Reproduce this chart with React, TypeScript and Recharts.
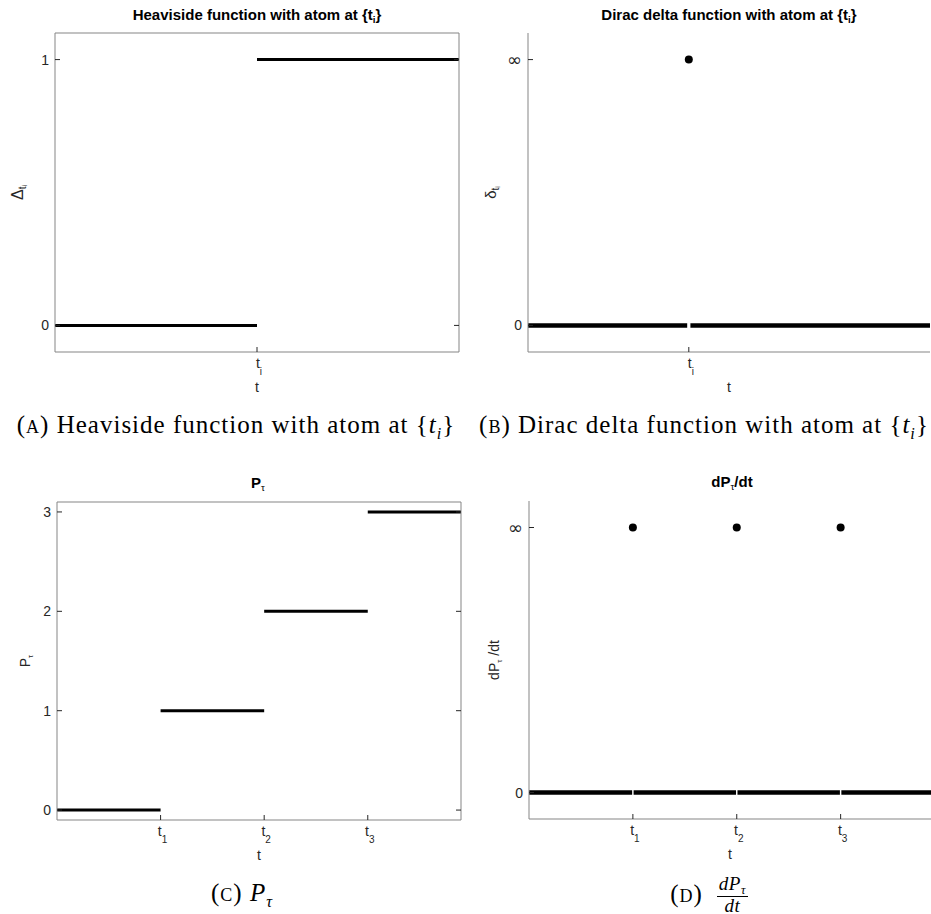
import React from 'react';
import { ComposedChart, Line, Scatter, XAxis, YAxis } from 'recharts';

// (A) Heaviside step with atom at t_i
const heavisideStart = [0, 1];
const heavisideEnd = [1, 2];
const heavisideValue = [0, 1];

// (B) Dirac delta: zero everywhere, "infinite" at the atom
const diracZeroStart = [0, 1.01];
const diracZeroEnd = [0.99, 2.5];
const diracAtomT = [1];
const diracAtomV = [1]; // plotted on the "∞" tick

// (C) counting process P_tau
const countStart = [0, 1, 2, 3];
const countEnd = [1, 2, 3, 3.9];
const countValue = [0, 1, 2, 3];

// (D) dP_tau/dt
const derivZeroStart = [0, 1.007, 2.007, 3.007];
const derivZeroEnd = [0.993, 1.993, 2.993, 3.87];
const derivAtomT = [1, 2, 3];
const derivAtomV = [1, 1, 1];

// tick labels
const singleTick = [1];
const singleTickSub = ['i'];
const tripleTicks = [1, 2, 3];
const tripleTickSub = ['1', '2', '3'];
const unitTicks = [0, 1];
const unitLabels = ['0', '1'];
const deltaLabels = ['0', '\u221e'];
const countTicks = [0, 1, 2, 3];
const countLabels = ['0', '1', '2', '3'];

const AXIS = '#858585';
const INK = '#262626';
const SANS = '"Liberation Sans", Arial, Helvetica, sans-serif';
const SERIF = '"Liberation Serif", "Times New Roman", serif';
const TICK_FS = 14;

type Pt = { t: number; v: number };

const segments = (starts: number[], ends: number[], values: number[]): Pt[][] =>
  starts.map((s, i) => [
    { t: s, v: values[i] },
    { t: ends[i], v: values[i] },
  ]);

const points = (ts: number[], vs: number[]): Pt[] => ts.map((t, i) => ({ t, v: vs[i] }));

const leftTick = (labels: string[]) => (p: any) => {
  const label = labels[p.index];
  const inf = label === '\u221e';
  return (
    <g>
      <line x1={p.x} x2={p.x + 5} y1={p.y} y2={p.y} stroke={INK} strokeWidth={1} />
      <text
        x={p.x - 6}
        y={p.y}
        textAnchor="end"
        dominantBaseline="central"
        fontSize={inf ? 18 : TICK_FS}
        fill={INK}
        fontFamily={inf ? '"DejaVu Sans", sans-serif' : SANS}
      >
        {label}
      </text>
    </g>
  );
};

const rightTick = () => (p: any) => (
  <line x1={p.x} x2={p.x - 5} y1={p.y} y2={p.y} stroke={INK} strokeWidth={1} />
);

const topTick = () => (p: any) => (
  <line x1={p.x} x2={p.x} y1={p.y} y2={p.y + 5} stroke={INK} strokeWidth={1} />
);

const bottomTick = (subs: string[]) => (p: any) => (
  <g>
    <line x1={p.x} x2={p.x} y1={p.y} y2={p.y - 5} stroke={INK} strokeWidth={1} />
    <text x={p.x + 2} y={p.y + 16} textAnchor="middle" fontSize={TICK_FS} fill={INK} fontFamily={SANS}>
      <tspan>t</tspan>
      <tspan dy={7} fontSize={10}>{subs[p.index]}</tspan>
    </text>
  </g>
);

interface PanelProps {
  left: number;
  top: number;
  width: number;
  height: number;
  margin: { top: number; right: number; bottom: number; left: number };
  yWidth: number;
  xDomain: [number, number];
  yDomain: [number, number];
  xTicks: number[];
  xSubs: string[];
  yTicks: number[];
  yLabels: string[];
  boxed: boolean;
  segs: Pt[][];
  atoms: Pt[];
  lineWidth: number;
  yLabelX: number;
  yLabel: React.ReactNode;
}

function Panel(props: PanelProps) {
  const { margin, yWidth } = props;
  return (
    <div style={{ position: 'absolute', left: props.left, top: props.top }}>
      <ComposedChart width={props.width} height={props.height} margin={margin}>
        <XAxis
          xAxisId="b"
          type="number"
          dataKey="t"
          domain={props.xDomain}
          ticks={props.xTicks}
          allowDataOverflow
          interval={0}
          height={40}
          tickSize={0}
          tickMargin={0}
          tickLine={false}
          axisLine={{ stroke: AXIS }}
          tick={bottomTick(props.xSubs)}
          label={{
            content: (lp: any) => (
              <text
                x={lp.viewBox.x + lp.viewBox.width / 2}
                y={lp.viewBox.y + 40}
                textAnchor="middle"
                fontSize={TICK_FS}
                fill={INK}
                fontFamily={SANS}
              >
                t
              </text>
            ),
          }}
        />
        <YAxis
          yAxisId="l"
          type="number"
          dataKey="v"
          domain={props.yDomain}
          ticks={props.yTicks}
          allowDataOverflow
          interval={0}
          width={yWidth}
          tickSize={0}
          tickMargin={0}
          tickLine={false}
          axisLine={{ stroke: AXIS }}
          tick={leftTick(props.yLabels)}
          label={{
            content: (lp: any) => {
              const cy = lp.viewBox.y + lp.viewBox.height / 2;
              return (
                <text
                  x={props.yLabelX}
                  y={cy}
                  transform={`rotate(-90 ${props.yLabelX} ${cy})`}
                  textAnchor="middle"
                  dominantBaseline="central"
                  fontSize={TICK_FS}
                  fill={INK}
                  fontFamily={SANS}
                >
                  {props.yLabel}
                </text>
              );
            },
          }}
        />
        {props.boxed && (
          <XAxis
            xAxisId="top"
            orientation="top"
            type="number"
            domain={props.xDomain}
            ticks={props.xTicks}
            allowDataOverflow
            interval={0}
            height={1}
            tickSize={0}
            tickMargin={0}
            tickLine={false}
            axisLine={{ stroke: AXIS }}
            tick={topTick()}
          />
        )}
        {props.boxed && (
          <YAxis
            yAxisId="r"
            orientation="right"
            type="number"
            domain={props.yDomain}
            ticks={props.yTicks}
            allowDataOverflow
            interval={0}
            width={1}
            tickSize={0}
            tickMargin={0}
            tickLine={false}
            axisLine={{ stroke: AXIS }}
            tick={rightTick()}
          />
        )}
        {props.segs.map((seg, i) => (
          <Line
            key={`seg-${i}`}
            xAxisId="b"
            yAxisId="l"
            data={seg}
            dataKey="v"
            type="linear"
            stroke="#000"
            strokeWidth={props.lineWidth}
            dot={false}
            activeDot={false}
            isAnimationActive={false}
          />
        ))}
        {props.atoms.length > 0 && (
          <Scatter
            xAxisId="b"
            yAxisId="l"
            data={props.atoms}
            dataKey="v"
            fill="#000"
            isAnimationActive={false}
            shape={(sp: any) => <circle cx={sp.cx} cy={sp.cy} r={4} fill="#000" />}
          />
        )}
      </ComposedChart>
    </div>
  );
}

const Sub = ({ children, size = 10, dy = 5 }: { children: React.ReactNode; size?: number; dy?: number }) => (
  <tspan dy={dy} fontSize={size}>
    {children}
  </tspan>
);

const titleStyle = (cx: number, cy: number): React.CSSProperties => ({
  position: 'absolute',
  left: cx - 200,
  top: cy - 10,
  width: 400,
  textAlign: 'center',
  fontFamily: SANS,
  fontWeight: 'bold',
  fontSize: 15,
  lineHeight: '20px',
  color: '#000',
  whiteSpace: 'nowrap',
});

const captionStyle = (cx: number, cy: number): React.CSSProperties => ({
  position: 'absolute',
  left: cx - 260,
  top: cy - 15,
  width: 520,
  textAlign: 'center',
  fontFamily: SERIF,
  fontSize: 25,
  letterSpacing: 1,
  lineHeight: '30px',
  color: '#000',
  whiteSpace: 'nowrap',
});

const subStyle: React.CSSProperties = { fontSize: '0.65em', position: 'relative', top: '0.35em' };

export default function App() {
  return (
    <div
      style={{
        position: 'absolute',
        left: 0,
        top: 0,
        width: 931,
        height: 914,
        background: '#fff',
        overflow: 'hidden',
      }}
    >
      <Panel
        left={0}
        top={0}
        width={470}
        height={400}
        margin={{ top: 32, right: 10, bottom: 8, left: 0 }}
        yWidth={55}
        xDomain={[0, 2]}
        yDomain={[-0.1, 1.1]}
        xTicks={singleTick}
        xSubs={singleTickSub}
        yTicks={unitTicks}
        yLabels={unitLabels}
        boxed
        segs={segments(heavisideStart, heavisideEnd, heavisideValue)}
        atoms={[]}
        lineWidth={3}
        yLabelX={17}
        yLabel={
          <>
            <tspan fontSize={16}>{'\u0394'}</tspan>
            <Sub size={10} dy={5}>t</Sub>
            <Sub size={7} dy={2}>i</Sub>
          </>
        }
      />
      <Panel
        left={460}
        top={0}
        width={471}
        height={400}
        margin={{ top: 33, right: 1, bottom: 8, left: 0 }}
        yWidth={68}
        xDomain={[0, 2.5]}
        yDomain={[-0.1, 1.1]}
        xTicks={singleTick}
        xSubs={singleTickSub}
        yTicks={unitTicks}
        yLabels={deltaLabels}
        boxed={false}
        segs={segments(diracZeroStart, diracZeroEnd, [0, 0])}
        atoms={points(diracAtomT, diracAtomV)}
        lineWidth={4.5}
        yLabelX={30}
        yLabel={
          <>
            <tspan fontSize={15}>{'\u03b4'}</tspan>
            <Sub size={10} dy={5}>t</Sub>
            <Sub size={7} dy={2}>i</Sub>
          </>
        }
      />
      <Panel
        left={0}
        top={460}
        width={470}
        height={420}
        margin={{ top: 41, right: 8, bottom: 20, left: 0 }}
        yWidth={57}
        xDomain={[0, 3.9]}
        yDomain={[-0.1, 3.1]}
        xTicks={tripleTicks}
        xSubs={tripleTickSub}
        yTicks={countTicks}
        yLabels={countLabels}
        boxed
        segs={segments(countStart, countEnd, countValue)}
        atoms={[]}
        lineWidth={3}
        yLabelX={25}
        yLabel={
          <>
            <tspan>P</tspan>
            <Sub size={8} dy={5}>{'\u03c4'}</Sub>
          </>
        }
      />
      <Panel
        left={460}
        top={460}
        width={471}
        height={420}
        margin={{ top: 41, right: 0, bottom: 21, left: 0 }}
        yWidth={69}
        xDomain={[0, 3.87]}
        yDomain={[-0.1, 1.1]}
        xTicks={tripleTicks}
        xSubs={tripleTickSub}
        yTicks={unitTicks}
        yLabels={deltaLabels}
        boxed={false}
        segs={segments(derivZeroStart, derivZeroEnd, [0, 0, 0, 0])}
        atoms={points(derivAtomT, derivAtomV)}
        lineWidth={4.5}
        yLabelX={34}
        yLabel={
          <>
            <tspan>dP</tspan>
            <Sub size={8} dy={5}>{'\u03c4'}</Sub>
            <tspan dy={-5}> /dt</tspan>
          </>
        }
      />

      <div style={titleStyle(257, 15)}>
        Heaviside function with atom at {'{'}t<span style={subStyle}>i</span>{'}'}
      </div>
      <div style={titleStyle(729, 15)}>
        Dirac delta function with atom at {'{'}t<span style={subStyle}>i</span>{'}'}
      </div>
      <div style={titleStyle(258, 483)}>
        P<span style={{ ...subStyle, fontWeight: 'normal' }}>{'\u03c4'}</span>
      </div>
      <div style={titleStyle(732, 482)}>
        dP<span style={{ ...subStyle, fontWeight: 'normal' }}>{'\u03c4'}</span>/dt
      </div>

      <div style={captionStyle(236, 425)}>
        <span style={{ fontVariant: 'small-caps' }}>(a)</span> Heaviside function with atom at {'{'}
        <i>t</i>
        <span style={subStyle}>
          <i>i</i>
        </span>
        {'}'}
      </div>
      <div style={captionStyle(704, 425)}>
        <span style={{ fontVariant: 'small-caps' }}>(b)</span> Dirac delta function with atom at {'{'}
        <i>t</i>
        <span style={subStyle}>
          <i>i</i>
        </span>
        {'}'}
      </div>
      <div style={captionStyle(242, 893)}>
        <span style={{ fontVariant: 'small-caps' }}>(c)</span>{' '}
        <i>P</i>
        <span style={subStyle}>
          <i>{'\u03c4'}</i>
        </span>
      </div>
      <div
        style={{
          ...captionStyle(709, 893),
          top: 876,
          height: 36,
          display: 'flex',
          justifyContent: 'center',
          alignItems: 'center',
        }}
      >
        <span style={{ fontVariant: 'small-caps' }}>(d)</span>
        <span
          style={{
            display: 'inline-flex',
            flexDirection: 'column',
            alignItems: 'center',
            marginLeft: 14,
            fontSize: 19,
            lineHeight: '17px',
            letterSpacing: 0.5,
          }}
        >
          <span style={{ borderBottom: '1px solid #000', padding: '0 2px 1px' }}>
            <i>dP</i>
            <span style={subStyle}>
              <i>{'\u03c4'}</i>
            </span>
          </span>
          <span>
            <i>dt</i>
          </span>
        </span>
      </div>
    </div>
  );
}
